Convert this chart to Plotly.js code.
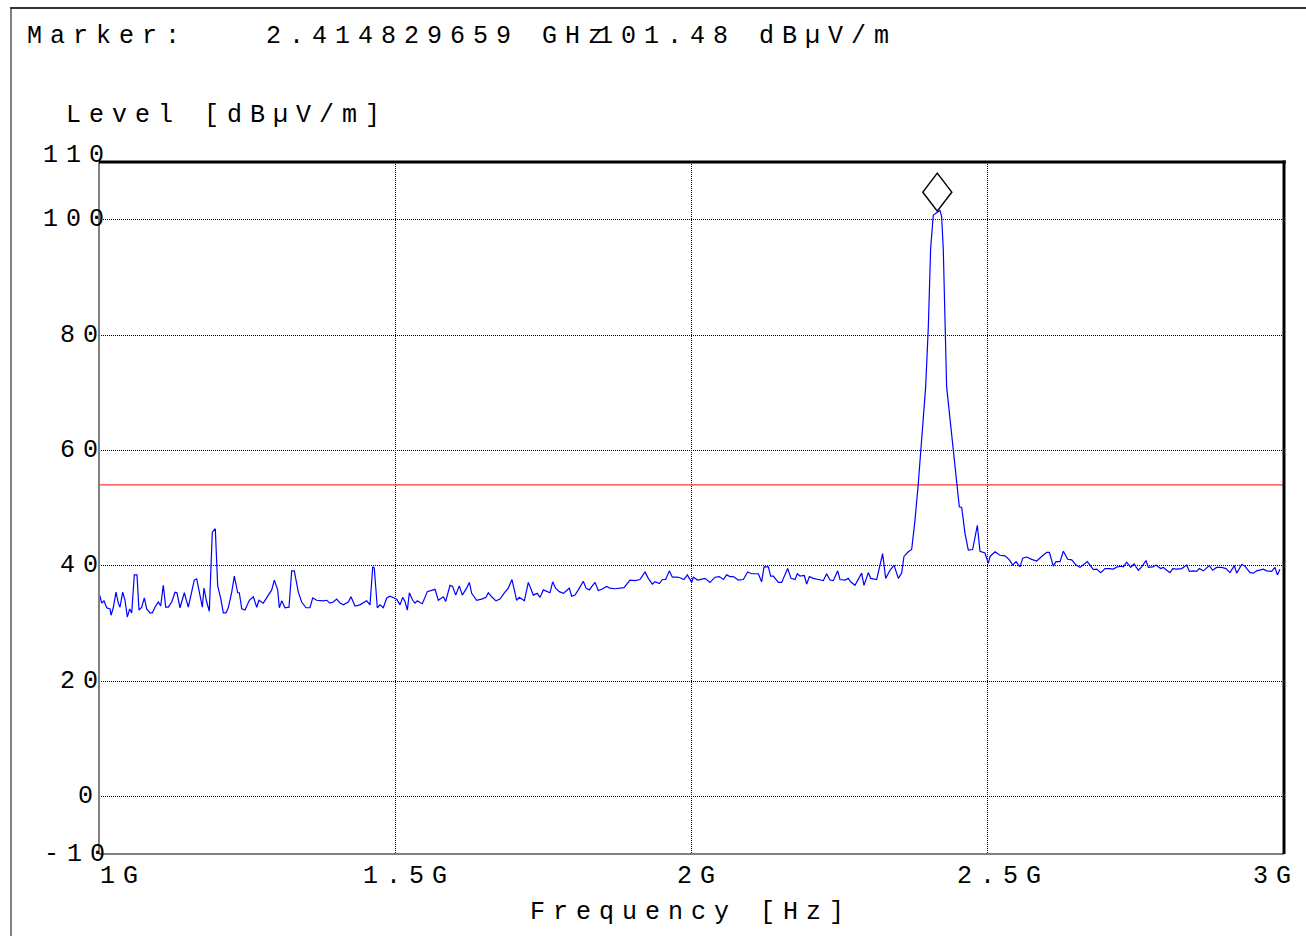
<!DOCTYPE html>
<html>
<head>
<meta charset="utf-8">
<script src="https://cdn.plot.ly/plotly-3.0.1.min.js"></script>
<style>
html, body { margin: 0; padding: 0; background: #ffffff; }
#chart { width: 1306px; height: 936px; }
svg text { letter-spacing: 8px; }
</style>
</head>
<body>
<div id="chart"></div>
<script>
// ---- data (frequency in MHz, level in dBµV/m) ----
var freqMHz = [
1000,1004.6,1008.4,1013,1018.6,1020.3,1024.1,1028.7,1032.6,1035.4,1040,1043.9,1047.8,1051.8,1055.2,1059.6,1064.1,1067.5,1072.1,1076.5,
1080.5,1086.1,1090,1094.5,1100.1,1104.1,1108.5,1112.6,1117,1122.7,1128.3,1131.6,1136.7,1144,1150.7,1156.5,1160.8,1164.9,1170.5,1174.4,
1177.2,1181.8,1186.2,1191.2,1196.3,1200.3,1205.9,1209.8,1214.3,1218.2,1224,1228.4,1234.1,1236.8,1240.9,1246.4,1253.7,1260.4,1266.2,1270,
1277.3,1283.1,1291.5,1295.9,1301.6,1304.3,1308.4,1313.9,1320.7,1325.2,1329.6,1336.4,1342.1,1349.4,1356.1,1360.7,1367.4,1378.6,1384.3,1389.9,
1395.4,1401.2,1406.8,1412.3,1420.8,1425.3,1432.1,1440.5,1451.8,1457.4,1462,1464.6,1469.7,1474.3,1479.8,1485.6,1491.1,1497.9,1502.5,1508,
1512.5,1516.4,1520.4,1523.8,1529.4,1533.3,1537.3,1541.8,1545.7,1554.1,1561.4,1567.1,1572.7,1576.6,1581.1,1585.1,1592.4,1596.9,1602,1608.1,
1613.2,1620.5,1625,1629,1637.4,1645.8,1653.2,1657.1,1662.7,1670,1676.8,1683.5,1690.8,1697,1702.1,1704.9,1709.4,1717.9,1724.6,1733,
1739.8,1744.3,1749.9,1758.4,1761.2,1765.7,1770.7,1776.9,1783.7,1789.3,1793.8,1797.7,1803.4,1809,1817.4,1821.9,1827.6,1832.6,1837.1,1842.7,
1848.4,1856.8,1862.4,1870.9,1879.3,1886.1,1896.2,1904.6,1913.1,1921.5,1927.1,1933.9,1938.4,1945.7,1950.8,1956.4,1962.6,1967.6,1976.1,1980.6,
1987.3,1993,2000.3,2003.1,2010.4,2017.2,2022.8,2031.2,2039.7,2047,2053.7,2059.3,2065,2070.6,2079,2087.5,2094.8,2101.5,2112.8,2118.4,
2122.4,2129.7,2133.6,2138.1,2146.6,2152.2,2162.3,2168,2174.7,2178.6,2183.1,2190.4,2194.4,2198.9,2205.6,2214.1,2222.5,2228.1,2233.8,2239.4,
2246.7,2250.6,2259.1,2264.7,2268.6,2275.9,2278.8,2287.2,2291.1,2298.5,2302.4,2306.9,2312.5,2322.6,2327.7,
2335,2341.8,2349.1,2354.7,2358.6,2365.9,2371.6,2377.2,2382.8,2388.4,2395.2,2399.7,2403.6,2408.1,2413.8,2419.4,2422.2,2425,2430.6,2436.3,
2441.9,2447.5,2452,2456,2461.6,2467.2,2474.5,2482.4,2486.9,2495.3,2501,2503.8,2512.2,2520.7,
2529.1,2536.5,2542.1,2547.7,2554.5,2559,2565.7,2574.2,2582.6,2591,2599.5,2604,2610.7,2615.2,2622,2627.6,2634.9,2641.7,2649,2655.7,
2668.1,2678.2,2683.9,2690.6,2698,2705.2,2712,2718.7,2724.9,2728.9,2734.5,2741.2,2746.9,2754.2,2759.8,2767.1,2771.1,2778.4,2784,2791.9,
2796.4,2802,2807.6,2812.1,2818.9,2827.3,2835.8,2840.3,2847,2852.6,2857.1,2863.9,2874,2879.6,2886.4,2894.8,2902.1,2908.9,2916.2,2920.1,
2928.6,2934.2,2942.6,2948.3,2953.9,2965.1,2970.7,2979.2,2984.8,2988.8,2993.2
];
var levelDb = [
35.3,33.5,33.9,32.7,32.5,31.4,32.7,35.4,33.5,32.8,35.4,34,31.1,32.5,31.8,38.4,38.4,32.3,32.8,34.4,
32.5,31.8,31.8,32.8,33.7,33,36.6,32.8,32.8,33.7,35.4,35.3,32.7,35.3,32.8,35.3,37.5,37.7,34.6,32.8,
36.1,33.7,32.1,45.8,46.4,36.5,34.1,31.8,31.8,32.7,35.4,38.2,35.3,35.3,32.5,32.3,34,34.6,32.8,34,
33.5,34.4,35.8,37.5,35.8,32.7,33.9,32.7,32.8,39.1,39.1,35.4,33.7,32.7,32.7,34.4,34,33.9,34,33.5,
33.7,34.2,33.5,33.2,33.7,34.6,33,33.2,33.9,33.2,39.8,39.6,32.7,33.2,32.7,34.4,34.7,34.4,34.2,33.2,
34.5,33.8,32.3,35.3,34.0,33.5,33.9,33.6,33.4,35.5,35.7,35.9,34.0,34.3,34.6,33.8,36.6,36.4,34.9,36.5,
34.9,36.1,37.1,35.2,34.0,34.2,34.5,35.3,34.6,33.9,34.2,35.2,36.1,37.6,35.5,34.0,34.5,33.9,37.1,34.9,
35.2,34.5,35.8,35.5,35.3,37.2,36.1,35.5,35.2,35.7,36.1,34.7,34.9,35.8,37.3,36.1,35.8,36.5,37.1,35.7,
35.9,36.4,36.1,36.0,36.1,36.2,37.5,37.4,37.6,38.9,37.8,36.8,37.2,36.9,37.6,37.6,39.1,38.0,38.0,37.9,
37.6,38.4,37.1,38.0,37.5,37.6,37.8,37.1,38.0,38.1,37.6,38.4,38.1,38.1,37.5,37.6,38.9,38.6,38.6,37.2,
39.8,39.8,38.2,38.2,37.1,37.1,39.5,37.8,37.6,38.6,38.2,38.3,36.8,38.1,37.8,37.6,37.4,38.6,37.5,37.4,
39.1,37.6,37.5,37.8,37.2,36.6,37.1,38.7,36.6,38.8,37.8,37.7,37.6,42.1,37.8,
39.2,40.1,37.8,38.7,41.6,42.4,42.8,47.9,54.3,61.2,71.0,81.4,95.0,100.8,101.2,101.6,100.5,94.7,71.0,65.2,
59.5,54.3,50.2,50.1,45.6,42.7,42.8,47.0,42.5,42.2,40.4,41.6,42.4,41.8,
41.7,41.0,40.1,40.7,39.8,41.3,41.5,41.1,40.8,41.6,42.3,42.3,39.9,40.7,40.7,42.5,41.1,41.0,40.1,39.7,
40.7,39.3,39.4,38.8,39.5,39.5,39.4,39.8,39.9,39.8,40.6,39.7,40.3,39.2,39.8,40.9,39.7,39.8,40.1,39.5,
39.7,39.2,38.8,39.5,39.4,39.5,40.1,39.0,39.1,39.0,39.5,39.1,40.0,39.2,39.7,39.7,39.5,38.8,40.0,38.7,
40.2,39.9,38.8,38.7,39.1,39.4,39.1,39.0,39.7,38.4,39.4
];
var limitFreq = [1000, 3000];
var limitLevel = [54, 54];
var markerFreq = 2414.829659;
var markerLevel = 101.48;

var xTickVals = [1000, 1500, 2000, 2500, 3000];
var xTickText = ['1G', '1.5G', '2G', '2.5G', '3G'];
var yTickVals = [110, 100, 80, 60, 40, 20, 0, -10];
var yTickText = ['110', '100', '80', '60', '40', '20', '0', '-10'];

var markerLabel = 'Marker:';
var markerFreqText = '2.414829659 GHz';
var markerLevelText = '101.48 dBµV/m';
var yTitle = 'Level [dBµV/m]';
var xTitle = 'Frequency [Hz]';

// ---- layout geometry (pixels) ----
var W = 1306, H = 936;
var M = {l: 99, r: 22, t: 162, b: 82};
var plotW = W - M.l - M.r, plotH = H - M.t - M.b;
function px(x) { return (x - M.l) / plotW; }
function py(y) { return (H - M.b - y) / plotH; }

var FONT = {family: 'Liberation Mono, Courier New, monospace', size: 25, color: '#000000'};

var annotations = [];
function addText(text, xPix, yPix) {
  annotations.push({text: text, xref: 'paper', yref: 'paper', x: px(xPix), y: py(yPix),
    xanchor: 'left', yanchor: 'middle', showarrow: false, font: FONT, borderpad: 0});
}
addText(markerLabel, 26, 37);
addText(markerFreqText, 265, 37);
addText(markerLevelText, 597, 37);
addText(yTitle, 65, 116);
addText(xTitle, 529, 912);

// y tick labels: left edge positions per label, centred on value (110 sits a bit above)
var yLabelLeft = [42, 42, 59, 59, 59, 59, 77, 43];
var yLabelShift = [7, 0, 0, 0, 0, 0, 0, 0];
yTickVals.forEach(function (v, i) {
  annotations.push({text: yTickText[i], xref: 'paper', yref: 'y', x: px(yLabelLeft[i]), y: v,
    yshift: yLabelShift[i], xanchor: 'left', yanchor: 'middle', showarrow: false, font: FONT, borderpad: 0});
});
// x tick labels
var xLabelLeft = [99, 362, 676, 956, 1252];
xTickVals.forEach(function (v, i) {
  annotations.push({text: xTickText[i], xref: 'paper', yref: 'paper', x: px(xLabelLeft[i]), y: py(876),
    xanchor: 'left', yanchor: 'middle', showarrow: false, font: FONT, borderpad: 0});
});

var shapes = [
  // outer frame
  {type: 'line', xref: 'paper', yref: 'paper', x0: px(11), x1: px(11), y0: py(8), y1: py(940), line: {color: '#808080', width: 2}},
  {type: 'line', xref: 'paper', yref: 'paper', x0: px(10), x1: px(1310), y0: py(8), y1: py(8), line: {color: '#333333', width: 2}},
  // plot border
  {type: 'line', xref: 'paper', yref: 'paper', x0: 0, x1: 0, y0: 0, y1: 1, line: {color: '#808080', width: 2}},
  {type: 'line', xref: 'paper', yref: 'paper', x0: 0, x1: 1, y0: 0, y1: 0, line: {color: '#000000', width: 1.2}},
  {type: 'line', xref: 'paper', yref: 'paper', x0: 0, x1: 1.0015, y0: 1, y1: 1, line: {color: '#000000', width: 3}},
  {type: 'line', xref: 'paper', yref: 'paper', x0: 1, x1: 1, y0: 0, y1: 1.002, line: {color: '#000000', width: 3}},
  // marker diamond, bottom tip on the marker point
  {type: 'path', xref: 'x', yref: 'y', xsizemode: 'pixel', ysizemode: 'pixel',
   xanchor: markerFreq, yanchor: markerLevel,
   path: 'M0,0 L14.5,19 L0,38 L-14.5,19 Z', line: {color: '#000000', width: 1.5}, fillcolor: 'rgba(0,0,0,0)'}
];

var traces = [
  {x: limitFreq, y: limitLevel, type: 'scatter', mode: 'lines', line: {color: '#ff0000', width: 1}, hoverinfo: 'skip'},
  {x: freqMHz, y: levelDb, type: 'scatter', mode: 'lines', line: {color: '#0000ff', width: 1.2}, hoverinfo: 'skip'}
];

var layout = {
  width: W, height: H,
  margin: M,
  paper_bgcolor: '#ffffff', plot_bgcolor: '#ffffff',
  showlegend: false,
  xaxis: {range: [1000, 3000], tickvals: [1500, 2000, 2500], showticklabels: false, ticks: '',
          showgrid: true, gridcolor: '#000000', gridwidth: 1, griddash: '1px,1px', zeroline: false, showline: false, fixedrange: true},
  yaxis: {range: [-10, 110], tickvals: [0, 20, 40, 60, 80, 100], showticklabels: false, ticks: '',
          showgrid: true, gridcolor: '#000000', gridwidth: 1, griddash: '1px,1px', zeroline: false, showline: false, fixedrange: true},
  annotations: annotations,
  shapes: shapes
};

Plotly.newPlot('chart', traces, layout, {displayModeBar: false, staticPlot: true});
</script>
</body>
</html>
